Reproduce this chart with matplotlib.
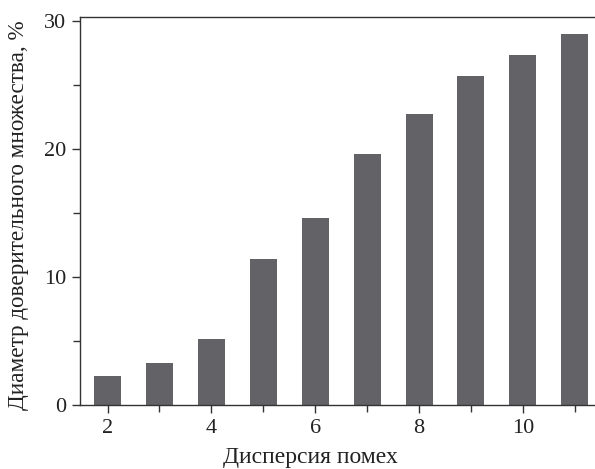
import numpy as np
import matplotlib
matplotlib.use("Agg")
import matplotlib.pyplot as plt
from matplotlib.ticker import MultipleLocator

# dispersion of the noise vs. confidence set diameter
noise_var = [2, 3, 4, 5, 6, 7, 8, 9, 10, 11]
diameter = [2.27, 3.26, 5.13, 11.38, 14.59, 19.59, 22.71, 25.7, 27.34, 28.96]

x_ticks = [2, 4, 6, 8, 10]
y_ticks = [0, 10, 20, 30]

plt.rcParams['font.family'] = ['Liberation Serif', 'DejaVu Serif']

fig = plt.figure(figsize=(5.95, 4.69), dpi=100)
ax = fig.add_axes([0.1345, 0.1365, 0.8655, 0.8273])

ax.bar(noise_var, diameter, width=0.52, color='#636367', edgecolor='none')

ax.set_xlim(1.47, 11.39)
ax.set_ylim(0, 30.3)
ax.set_xticks(x_ticks)
ax.set_yticks(y_ticks)
ax.xaxis.set_minor_locator(MultipleLocator(1))
ax.yaxis.set_minor_locator(MultipleLocator(5))

ax.spines['right'].set_visible(False)
for s in ['left', 'top', 'bottom']:
    ax.spines[s].set_color('#333333')
    ax.spines[s].set_linewidth(1.0)

ax.tick_params(which='major', direction='out', length=6, width=1.0,
               color='#333333', labelsize=16, labelcolor='#222222', pad=4)
ax.tick_params(which='minor', direction='out', length=5, width=1.0,
               color='#333333')

ax.set_xlabel('Дисперсия помех', fontsize=17, color='#222222')
ax.set_ylabel('Диаметр доверительного множества, %', fontsize=16.7,
              color='#222222')
ax.xaxis.set_label_coords(0.447, -0.108)
ax.yaxis.set_label_coords(-0.1, 0.49)

fig.savefig('out.png', dpi=100)
